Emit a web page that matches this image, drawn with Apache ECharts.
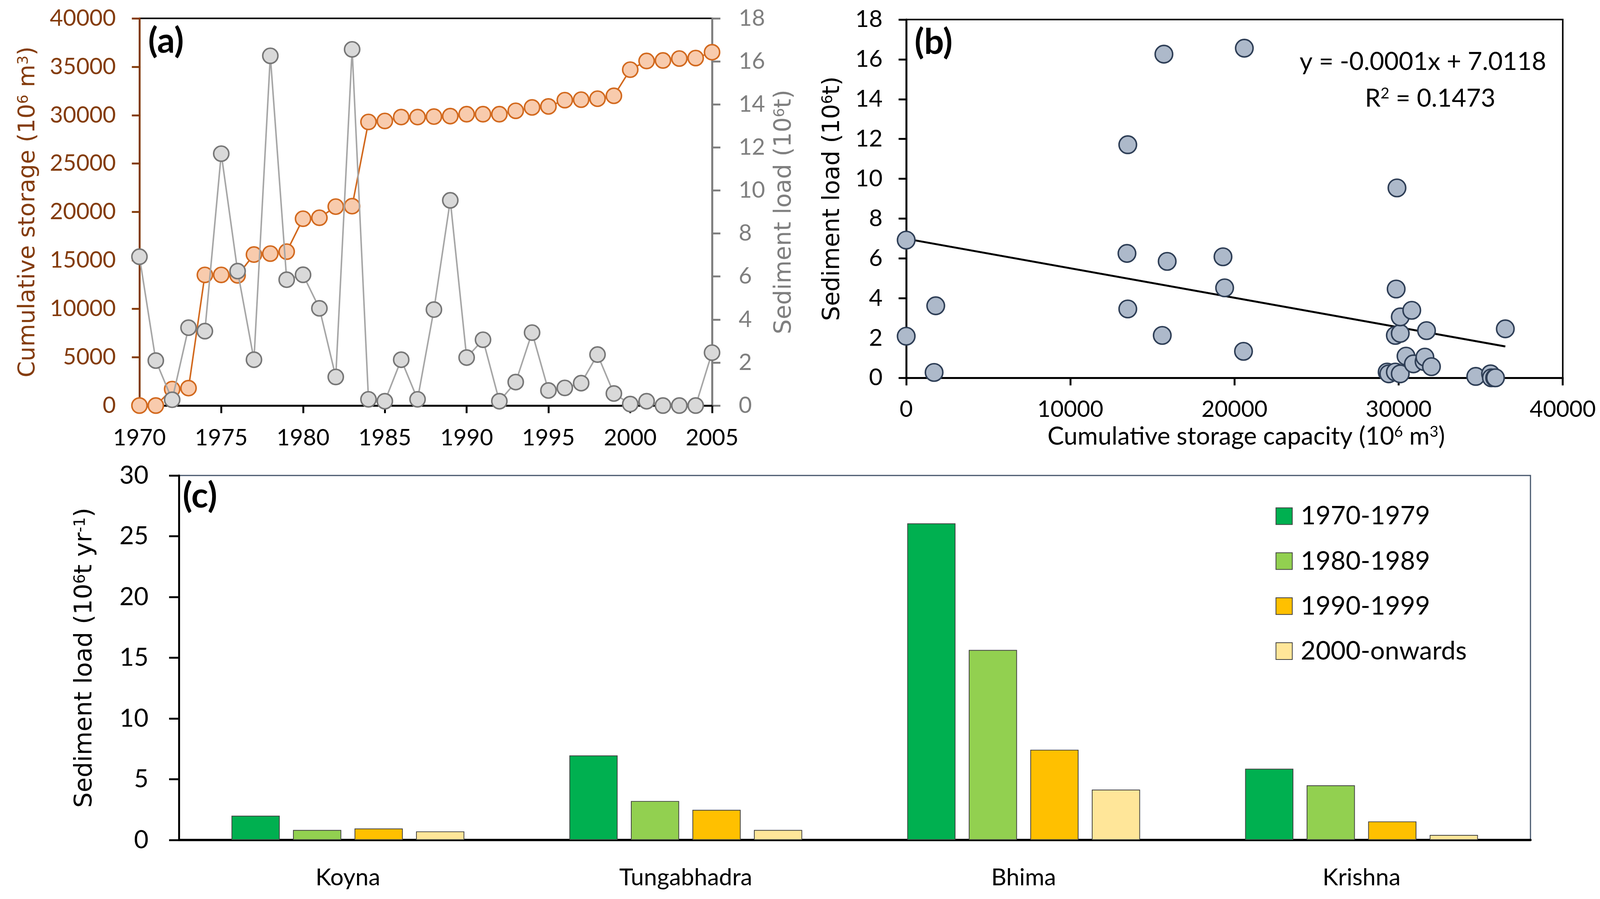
<!DOCTYPE html>
<html><head><meta charset="utf-8">
<script src="https://cdn.jsdelivr.net/npm/echarts@6/dist/echarts.min.js"></script>
<style>html,body{margin:0;padding:0;background:#fff;overflow:hidden}#c{width:100vw;height:100vh}</style>
</head><body><div id="c"></div>
<script>
// ---------- data ----------
const years = [1970,1971,1972,1973,1974,1975,1976,1977,1978,1979,1980,1981,1982,1983,1984,1985,1986,1987,1988,1989,1990,1991,1992,1993,1994,1995,1996,1997,1998,1999,2000,2001,2002,2003,2004,2005];
const storage = [0,0,1700,1800,13500,13500,13450,15600,15700,15900,19300,19400,20550,20600,29300,29400,29800,29800,29850,29900,30100,30100,30100,30450,30800,30900,31550,31600,31700,32000,34700,35600,35650,35850,35900,36500];
const sediment = [6.92,2.09,0.27,3.62,3.46,11.71,6.25,2.13,16.26,5.85,6.08,4.52,1.33,16.56,0.29,0.2,2.13,0.29,4.46,9.54,2.23,3.06,0.2,1.09,3.39,0.7,0.82,1.04,2.37,0.56,0.07,0.2,0,0,0,2.46];

const rivers = ['Koyna','Tungabhadra','Bhima','Krishna'];
const periods = ['1970-1979','1980-1989','1990-1999','2000-onwards'];
const load1970s = [2.0,6.96,26.06,5.87];
const load1980s = [0.83,3.21,15.64,4.50];
const load1990s = [0.95,2.48,7.43,1.53];
const load2000s = [0.71,0.83,4.15,0.42];

// linear fit of sediment load on storage (trend line of panel b)
function linfit(xs, ys){
  const n = xs.length;
  const mx = xs.reduce((a,b)=>a+b,0)/n, my = ys.reduce((a,b)=>a+b,0)/n;
  let sxy=0,sxx=0;
  for(let i=0;i<n;i++){sxy+=(xs[i]-mx)*(ys[i]-my);sxx+=(xs[i]-mx)*(xs[i]-mx);}
  const m = sxy/sxx; return {m, b: my-m*mx};
}
const fit = linfit(storage, sediment);
const xMax = Math.max(...storage);

// ---------- layout scaling (design size 4211 x 2301) ----------
const el = document.getElementById('c');
const kx = el.clientWidth/4211, ky = el.clientHeight/2301, kf = Math.min(kx, ky);
const X = v => v*kx, Y = v => v*ky, F = v => v*kf;

const chart = echarts.init(el, null, {renderer:'canvas'});
const TICK = 'Lato';
const TITLE = 'DejaVu Sans';
const brown = '#843C0C', grey = '#7F7F7F';
const fmt = v => String(v);

function supRich(color, size){
  return {s:{fontFamily:TITLE, fontSize:F(size), color:color, verticalAlign:'top', lineHeight:F(size)}};
}
function axisBase(color, lw, tl, fs, margin){
  return {
    axisLine:{show:true, onZero:false, lineStyle:{color:color, width:F(lw)}},
    axisTick:{show:true, length:F(tl), lineStyle:{color:color, width:F(lw)}},
    axisLabel:{color:color, fontFamily:TICK, fontSize:F(fs), margin:F(margin), formatter:fmt},
    splitLine:{show:false}
  };
}

const option = {
  animation:false,
  backgroundColor:'#fff',
  grid:[
    {left:X(367), right:X(4211-1874), top:Y(47), bottom:Y(2301-1038), show:true, borderColor:'#000', borderWidth:F(4), backgroundColor:'transparent'},
    {left:X(2385), right:X(4211-4113), top:Y(50), bottom:Y(2301-967), show:true, borderColor:'#000', borderWidth:F(4), backgroundColor:'transparent'},
    {left:X(471), right:X(4211-4028), top:Y(1217), bottom:Y(2301-2150), show:true, borderColor:'#44546A', borderWidth:F(3), backgroundColor:'transparent'}
  ],
  xAxis:[
    Object.assign({gridIndex:0, type:'value', min:1970, max:2005, interval:5}, axisBase('#000',5,20,60,56)),
    Object.assign({gridIndex:1, type:'value', min:0, max:40000, interval:10000,
     name:'Cumulative storage capacity (10{s|6} m{s|3})', nameLocation:'middle', nameGap:F(122),
     nameTextStyle:{fontFamily:TICK, fontSize:F(65), color:'#000', padding:[0,0,0,X(62)],
       rich:{s:{fontFamily:TICK, fontSize:F(40), color:'#000', verticalAlign:'top', lineHeight:F(40)}}}},
     axisBase('#000',5,20,60,54)),
    {gridIndex:2, type:'category', data:rivers,
     axisLine:{onZero:false, lineStyle:{color:'#000', width:F(6)}},
     axisTick:{show:false},
     axisLabel:{color:'#000', fontFamily:TICK, fontSize:F(62), margin:F(68)},
     splitLine:{show:false}}
  ],
  yAxis:[
    Object.assign({gridIndex:0, type:'value', min:0, max:40000, interval:5000, position:'left',
     name:'Cumulative storage (10{s|6} m{s|3})', nameLocation:'middle', nameRotate:90, nameGap:F(262),
     nameTextStyle:{fontFamily:TITLE, fontSize:F(61), color:brown, rich:supRich(brown,38)}},
     axisBase(brown,5,20,60,62)),
    Object.assign({gridIndex:0, type:'value', min:0, max:18, interval:2, position:'right',
     name:'Sediment load (10{s|6}t)', nameLocation:'middle', nameRotate:90, nameGap:F(160),
     nameTextStyle:{fontFamily:TITLE, fontSize:F(62), color:grey, rich:supRich(grey,38)}},
     axisBase(grey,5,22,60,70)),
    Object.assign({gridIndex:1, type:'value', min:0, max:18, interval:2,
     name:'Sediment load (10{s|6}t)', nameLocation:'middle', nameRotate:90, nameGap:F(162),
     nameTextStyle:{fontFamily:TITLE, fontSize:F(62), color:'#000', rich:supRich('#000',38)}},
     axisBase('#000',5,20,62,62)),
    Object.assign({gridIndex:2, type:'value', min:0, max:30, interval:5,
     name:'Sediment load (10{s|6}t yr{s|-1})', nameLocation:'middle', nameRotate:90, nameGap:F(215),
     nameTextStyle:{fontFamily:TITLE, fontSize:F(64), color:'#000', rich:supRich('#000',40)}},
     axisBase('#000',5,26,66,80))
  ],
  legend:{
    orient:'vertical', left:X(3352), top:Y(1283), itemWidth:F(43), itemHeight:F(44), itemGap:Y(49),
    icon:'rect', data:periods,
    textStyle:{fontFamily:TICK, fontSize:F(68), lineHeight:F(68), color:'#000', padding:[0,0,0,X(17)]}
  },
  graphic:[
    {type:'text', left:X(390), top:Y(62), style:{text:'(a)', font:'bold '+F(92)+'px Lato', fill:'#000'}},
    {type:'text', left:X(2407), top:Y(65), style:{text:'(b)', font:'bold '+F(92)+'px Lato', fill:'#000'}},
    {type:'text', left:X(481), top:Y(1226), style:{text:'(c)', font:'bold '+F(92)+'px Lato', fill:'#000'}},
    {type:'text', x:X(3745), y:Y(158), style:{text:'y = -0.0001x + 7.0118', font:F(66)+'px Lato', fill:'#000', align:'center', verticalAlign:'middle'}},
    {type:'text', x:X(3764), y:Y(252), style:{text:'R{s|2} = 0.1473', font:F(66)+'px Lato', fill:'#000', align:'center', verticalAlign:'middle',
      rich:{s:{font:F(40)+'px Lato', fill:'#000', verticalAlign:'top', lineHeight:F(40)}}}}
  ],
  series:[
    {type:'line', xAxisIndex:0, yAxisIndex:0, clip:false, z:2,
     data:years.map((y,i)=>[y, storage[i]]),
     symbol:'circle', symbolSize:F(40),
     lineStyle:{color:'#D2691E', width:F(4)},
     itemStyle:{color:'#F8CBAD', borderColor:'#D2691E', borderWidth:F(4)}},
    {type:'line', xAxisIndex:0, yAxisIndex:1, clip:false, z:3,
     data:years.map((y,i)=>[y, sediment[i]]),
     symbol:'circle', symbolSize:F(40),
     lineStyle:{color:'#A6A6A6', width:F(4)},
     itemStyle:{color:'#D9D9D9', borderColor:'#767676', borderWidth:F(4)}},
    {type:'line', xAxisIndex:1, yAxisIndex:2, clip:false, z:2,
     data:[[0, fit.b],[xMax, fit.b + fit.m*xMax]],
     symbol:'none', lineStyle:{color:'#000', width:F(5)}},
    {type:'scatter', xAxisIndex:1, yAxisIndex:2, clip:false, z:3,
     data:storage.map((s,i)=>[s, sediment[i]]),
     symbol:'circle', symbolSize:F(46),
     itemStyle:{color:'#ADB9CA', borderColor:'#2E3E56', borderWidth:F(4), opacity:1}},
    {type:'bar', name:periods[0], xAxisIndex:2, yAxisIndex:3, data:load1970s, barWidth:X(127), barGap:'27.5%',
     itemStyle:{color:'#00B050', borderColor:'#404040', borderWidth:F(2)}},
    {type:'bar', name:periods[1], xAxisIndex:2, yAxisIndex:3, data:load1980s, barWidth:X(127), barGap:'27.5%',
     itemStyle:{color:'#92D050', borderColor:'#404040', borderWidth:F(2)}},
    {type:'bar', name:periods[2], xAxisIndex:2, yAxisIndex:3, data:load1990s, barWidth:X(127), barGap:'27.5%',
     itemStyle:{color:'#FFC000', borderColor:'#404040', borderWidth:F(2)}},
    {type:'bar', name:periods[3], xAxisIndex:2, yAxisIndex:3, data:load2000s, barWidth:X(127), barGap:'27.5%',
     itemStyle:{color:'#FFE699', borderColor:'#404040', borderWidth:F(2)}}
  ]
};
chart.setOption(option);
</script></body></html>
